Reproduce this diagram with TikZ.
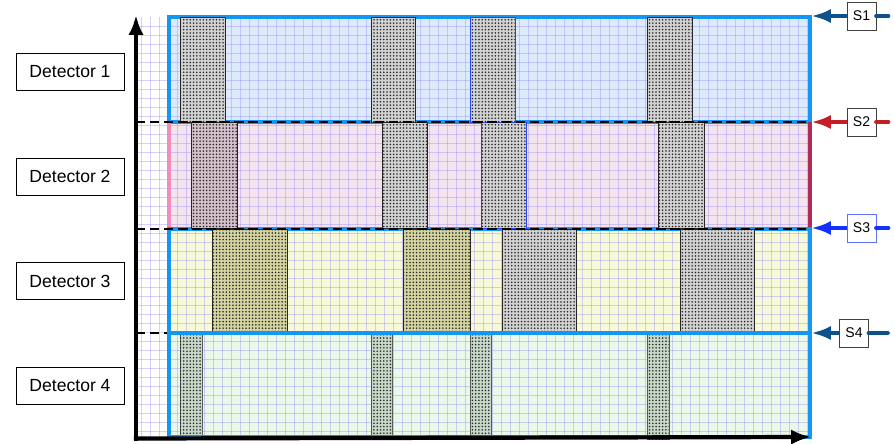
\documentclass[tikz,border=0pt]{standalone}
\usepackage{fontspec}
\setmainfont{Liberation Sans}
\usetikzlibrary{arrows.meta, patterns.meta}

\definecolor{bandblue}{RGB}{221,234,252}
\definecolor{bandpink}{RGB}{244,228,239}
\definecolor{bandyellow}{RGB}{248,249,214}
\definecolor{bandgreen}{RGB}{233,248,233}
\definecolor{gridlav}{RGB}{150,140,250}
\definecolor{edgeblue}{RGB}{20,150,245}
\definecolor{edgepink}{RGB}{240,140,190}
\definecolor{edgered}{RGB}{175,45,85}
\definecolor{hitblue}{RGB}{35,70,250}
\definecolor{hitgray}{RGB}{210,210,210}
\definecolor{hitpink}{RGB}{212,192,202}
\definecolor{hitolive}{RGB}{212,212,160}
\definecolor{hitgreen}{RGB}{200,216,200}
\definecolor{sigdark}{RGB}{12,80,140}
\definecolor{sigred}{RGB}{195,30,40}
\definecolor{sigblue}{RGB}{20,50,255}

\begin{document}
\begin{tikzpicture}[x=0.03cm, y=-0.03cm,
  every node/.style={font=\fontsize{15}{18}\selectfont},
  det/.style={draw, thin, minimum width=3.24cm, minimum height=1.11cm, inner sep=0pt},
  sig/.style={draw=black!75, fill=white, minimum width=0.87cm, minimum height=0.84cm, inner sep=0pt, font=\fontsize{12}{14}\selectfont},
  sarr/.style={line width=3.6pt, -{Latex[length=17pt,width=12pt]}},
  stail/.style={line width=3.6pt, line cap=round},
  hit/.style={draw=black!85, line width=0.7pt, fill=#1, postaction={pattern color=black!85, pattern={Dots[distance=2.8pt, radius=0.75pt]}}},
  hit/.default=hitgray,
  gridln/.style={gridlav, draw opacity=0.4, line width=0.6pt},
  sepline/.style={dash pattern=on 8pt off 4pt, line width=1pt},
  bandedge/.style={line width=2.6pt},
  axis/.style={line width=3.6pt, -{Latex[length=17pt,width=13pt]}}
]
  \useasboundingbox (0,0) rectangle (894,443);

  \fill[bandblue] (169,17) rectangle (810,122);
  \fill[bandpink] (169,122) rectangle (810,229);
  \fill[bandyellow] (169,229) rectangle (810,333);
  \fill[bandgreen] (169,333) rectangle (810,437);
  \foreach \x in {141,150,...,807} \draw[gridln] (\x,17) -- (\x,437);
  \foreach \y in {26,35,...,436} \draw[gridln] (136,\y) -- (810,\y);

  \draw[bandedge, edgeblue] (169,17) rectangle (810,122);
  \draw[bandedge, edgepink] (169,122) -- (169,229);
  \draw[bandedge, edgered] (810,122) -- (810,229);
  \draw[bandedge, edgeblue] (169,229) rectangle (810,333);

  \foreach \a/\b in {180/225, 371/415, 647/692} \draw[hit] (\a,17) rectangle (\b,122);
  \draw[hit, draw=hitblue] (470,17) rectangle (515,122);
  \draw[hit=hitpink] (191,122) rectangle (237,228);
  \foreach \a/\b in {382/427, 658/704} \draw[hit] (\a,122) rectangle (\b,228);
  \draw[hit, draw=hitblue] (481,122) rectangle (526,228);
  \foreach \a/\b in {212/287, 403/470} \draw[hit=hitolive] (\a,229) rectangle (\b,333);
  \foreach \a/\b in {502/576, 680/754} \draw[hit] (\a,229) rectangle (\b,333);
  \foreach \a/\b in {180/202, 371/392, 470/491, 647/669} \draw[hit=hitgreen, draw=black!65] (\a,333) rectangle (\b,439);

  \draw[sepline] (136,122) -- (810,122);
  \draw[sepline] (136,229) -- (810,229);
  \draw[sepline] (136,333) -- (169,333);
  \draw[bandedge, edgeblue] (169,333) rectangle (810,437);

  \coordinate (origin) at (136,438.5);
  \coordinate (ytop) at (136,15);
  \coordinate (xend) at (811,437);
  \draw[axis] ([yshift=-1.8pt]origin) -- (ytop);
  \draw[axis] ([xshift=-1.8pt]origin) -- (xend);

  \node[det] (d1) at (70,71.5) {Detector 1};
  \node[det] (d2) at (70,176.5) {Detector 2};
  \node[det] (d3) at (70,281) {Detector 3};
  \node[det] (d4) at (70,386) {Detector 4};

  \node[sig] (S1) at (861.5,16) {S1};
  \node[sig] (S2) at (861.5,122) {S2};
  \node[sig, draw=sigblue!70!white] (S3) at (861.5,228) {S3};
  \node[sig] (S4) at (854,333) {S4};
  \coordinate (t1) at (811,16);
  \coordinate (t2) at (811,122);
  \coordinate (t3) at (811,228);
  \coordinate (t4) at (811,333);
  \draw[sarr, sigdark] (S1.west) -- (t1);
  \draw[stail, sigdark] (S1.east) -- ++(12,0);
  \draw[sarr, sigred] (S2.west) -- (t2);
  \draw[stail, sigred] (S2.east) -- ++(12,0);
  \draw[sarr, sigblue] (S3.west) -- (t3);
  \draw[stail, sigblue] (S3.east) -- ++(12,0);
  \draw[sarr, sigdark] (S4.west) -- (t4);
  \draw[stail, sigdark] (S4.east) -- ++(19,0);
\end{tikzpicture}
\end{document}
